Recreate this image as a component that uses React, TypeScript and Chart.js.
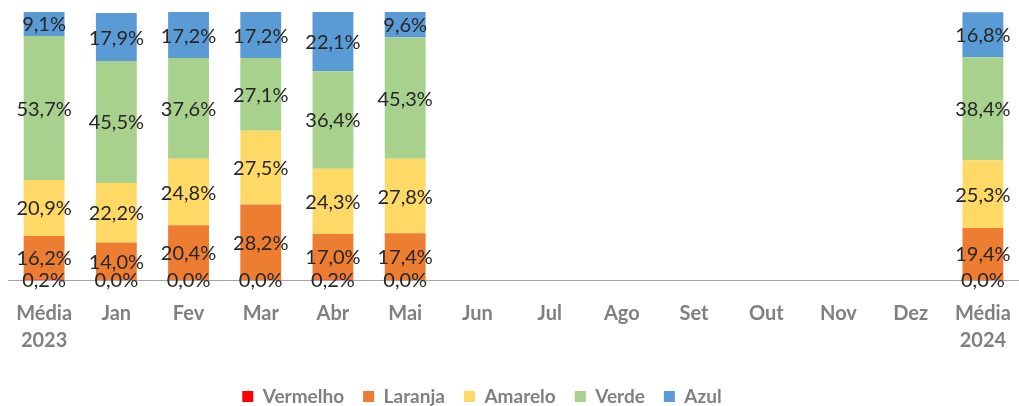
import React, { useEffect, useRef } from "react";
import { Chart, registerables } from "chart.js";

Chart.register(...registerables);

const categories: (string | string[])[] = [
  ["Média", "2023"], "Jan", "Fev", "Mar", "Abr", "Mai", "Jun", "Jul", "Ago", "Set", "Out", "Nov", "Dez", ["Média", "2024"],
];

const vermelho = [0.2, 0.0, 0.0, 0.0, 0.2, 0.0, null, null, null, null, null, null, null, 0.0];
const laranja = [16.2, 14.0, 20.4, 28.2, 17.0, 17.4, null, null, null, null, null, null, null, 19.4];
const amarelo = [20.9, 22.2, 24.8, 27.5, 24.3, 27.8, null, null, null, null, null, null, null, 25.3];
const verde = [53.7, 45.5, 37.6, 27.1, 36.4, 45.3, null, null, null, null, null, null, null, 38.4];
const azul = [9.1, 17.9, 17.2, 17.2, 22.1, 9.6, null, null, null, null, null, null, null, 16.8];

const seriesNames = ["Vermelho", "Laranja", "Amarelo", "Verde", "Azul"];
const seriesColors = ["#FF0000", "#ED7D31", "#FFD966", "#A9D18E", "#5B9BD5"];

const labelPlugin = {
  id: "segLabels",
  afterDatasetsDraw(chart: any) {
    const ctx = chart.ctx;
    ctx.save();
    ctx.font = "20px Lato";
    ctx.fillStyle = "#262626";
    ctx.textAlign = "center";
    ctx.textBaseline = "middle";
    chart.data.datasets.forEach((ds: any, di: number) => {
      const meta = chart.getDatasetMeta(di);
      meta.data.forEach((el: any, i: number) => {
        const v = ds.data[i];
        if (v === null || v === undefined) return;
        const { x, y, base } = el.getProps(["x", "y", "base"], true);
        const cy = (y + base) / 2;
        ctx.fillText(v.toFixed(1).replace(".", ",") + "%", x, cy + 1);
      });
    });
    ctx.restore();
  },
};

const legendShiftPlugin = {
  id: "legendShift",
  afterLayout(chart: any) {
    if (chart.legend) {
      chart.legend.left -= 33;
      chart.legend.right -= 33;
    }
  },
};

export default function App() {
  const ref = useRef<HTMLCanvasElement>(null);
  useEffect(() => {
    document.body.style.margin = "0";
    const data = [vermelho, laranja, amarelo, verde, azul];
    const chart = new Chart(ref.current!, {
      type: "bar",
      data: {
        labels: categories,
        datasets: seriesNames.map((n, i) => ({
          label: n,
          data: data[i],
          backgroundColor: seriesColors[i],
          borderWidth: 0,
          barPercentage: 0.566,
          categoryPercentage: 1,
        })),
      },
      options: {
        animation: false,
        responsive: false,
        maintainAspectRatio: false,
        layout: { padding: { top: 12, left: 8, right: -3, bottom: -10 } },
        plugins: {
          legend: {
            position: "bottom",
            labels: {
              boxWidth: 11,
              boxHeight: 11,
              padding: 19,
              color: "#808080",
              font: { family: "Lato", size: 19, weight: "bold" },
            },
          },
          tooltip: { enabled: false },
        },
        scales: {
          x: {
            stacked: true,
            grid: { display: false, drawTicks: false },
            border: { display: true, color: "#A6A6A6", width: 1 },
            afterFit: (scale: any) => {
              scale.height -= 6;
              scale.paddingLeft = 0;
              scale.paddingRight = 0;
            },
            ticks: {
              color: "#808080",
              padding: 20,
              maxRotation: 0,
              autoSkip: false,
              font: { family: "Lato", size: 20, weight: "bold", lineHeight: 1.35 },
            },
          },
          y: {
            stacked: true,
            display: false,
            min: 0,
            max: 100,
          },
        },
      },
      plugins: [labelPlugin, legendShiftPlugin],
    });
    return () => chart.destroy();
  }, []);
  return (
    <div style={{ width: 1019, height: 406, overflow: "hidden" }}>
      <canvas ref={ref} width={1019} height={406} />
    </div>
  );
}
